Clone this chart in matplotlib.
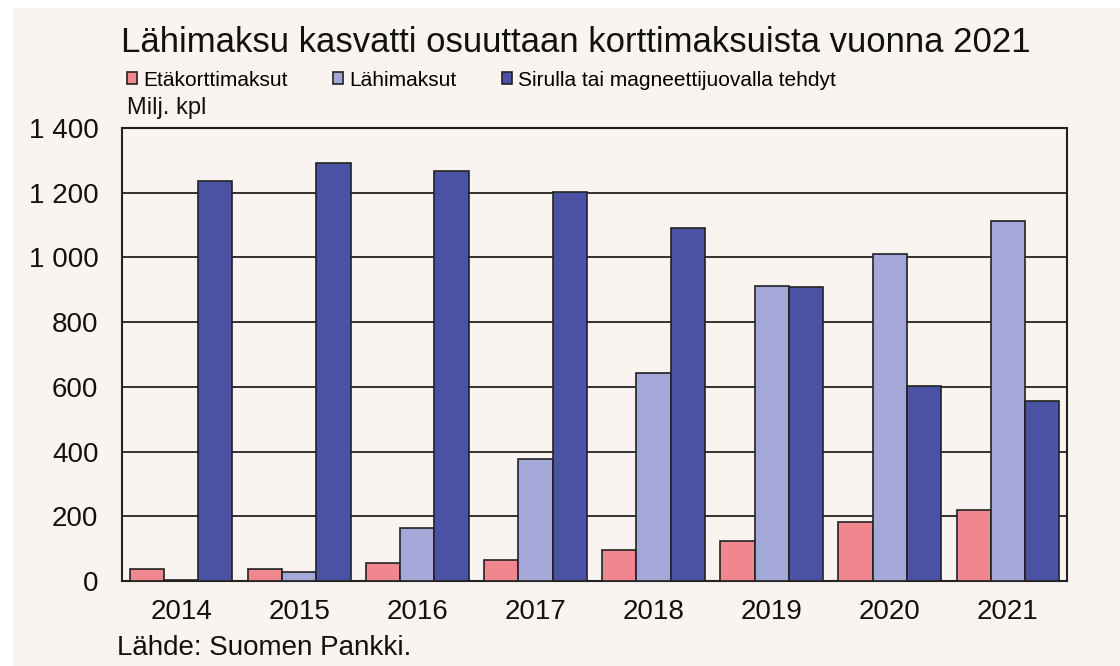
import matplotlib
matplotlib.use("Agg")
from matplotlib import pyplot as plt
from matplotlib.patches import Rectangle
import numpy as np

plt.rcParams['font.family'] = ['Liberation Sans', 'DejaVu Sans']

years = ['2014', '2015', '2016', '2017', '2018', '2019', '2020', '2021']
eta = [36, 38, 55, 66, 97, 125, 182, 220]
lahi = [3, 28, 163, 376, 642, 912, 1010, 1112]
siru = [1235, 1291, 1266, 1201, 1090, 908, 603, 556]
labels = ['Etäkorttimaksut', 'Lähimaksut', 'Sirulla tai magneettijuovalla tehdyt']
colors = ['#f0878f', '#a3a8d8', '#4b52a3']
bg = '#f9f4ef'

fig = plt.figure(figsize=(11.2, 6.66), dpi=100, facecolor='white')
# cream background, white strip on top and left
fig.patches.append(Rectangle((13 / 1120, 0), 1, 1 - 8 / 666, transform=fig.transFigure,
                             facecolor=bg, edgecolor='none', zorder=-10))

ax = fig.add_axes([122 / 1120, 1 - 581 / 666, 945 / 1120, 453 / 666])
ax.set_facecolor(bg)

x = np.arange(len(years))
w = 0.29
for i, (vals, lab, col) in enumerate(zip([eta, lahi, siru], labels, colors)):
    ax.bar(x + (i - 1) * w, vals, width=w, color=col, edgecolor='#222222',
           linewidth=1.2, label=lab, zorder=3)

ax.set_xlim(-0.5, len(years) - 0.5)
ax.set_ylim(0, 1400)
ax.set_yticks(range(0, 1401, 200))
ax.set_yticklabels(['0', '200', '400', '600', '800', '1 000', '1 200', '1 400'])
ax.set_xticks(x)
ax.set_xticklabels(years)
ax.tick_params(axis='both', length=0, labelsize=20, colors='#111111')
ax.tick_params(axis='y', pad=17)
ax.tick_params(axis='x', pad=13)
ax.yaxis.grid(True, color='#222222', linewidth=1.3, zorder=0)
ax.set_axisbelow(True)
for s in ax.spines.values():
    s.set_color('#222222')
    s.set_linewidth(1.5)

fig.text(576 / 1120, 1 - 42 / 666, 'Lähimaksu kasvatti osuuttaan korttimaksuista vuonna 2021',
         ha='center', va='center', fontsize=25, color='#111111')
fig.text(127 / 1120, 1 - 108 / 666, 'Milj. kpl', ha='left', va='center', fontsize=17, color='#111111')
fig.text(117 / 1120, 1 - 648 / 666, 'Lähde: Suomen Pankki.', ha='left', va='center',
         fontsize=20, color='#111111')

handles, labs = ax.get_legend_handles_labels()
fig.legend(handles, labs, loc='center left', bbox_to_anchor=(127 / 1120, 1 - 80 / 666),
           ncol=3, frameon=False, fontsize=15,
           handlelength=0.5, handleheight=0.5,
           handletextpad=0.3, columnspacing=2.15, borderaxespad=0, borderpad=0)

fig.savefig('out.png', dpi=100, facecolor=fig.get_facecolor())
